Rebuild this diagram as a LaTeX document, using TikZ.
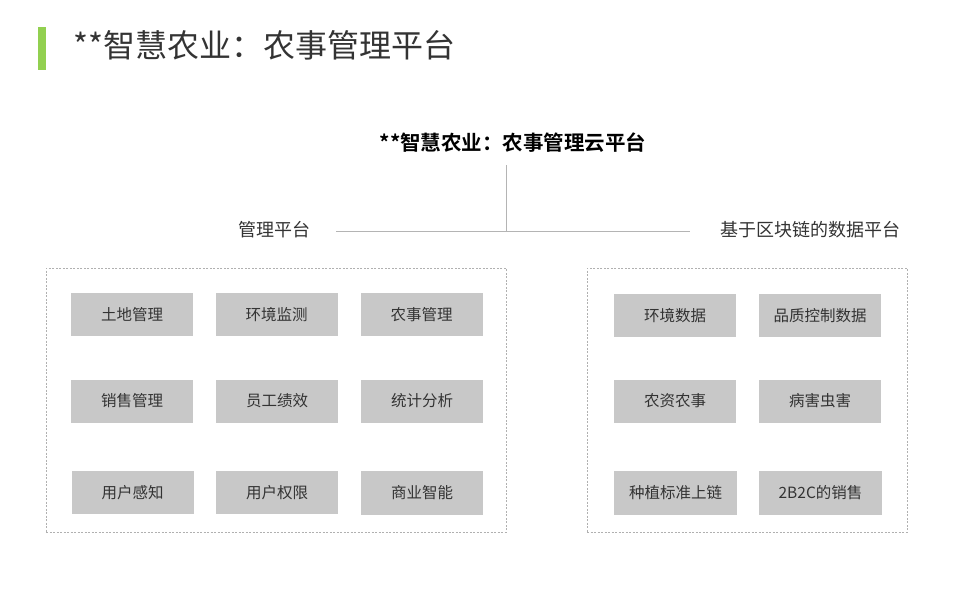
\documentclass[tikz,border=0pt]{standalone}
\usepackage{fontspec}
\setmainfont{Noto Sans CJK SC}
\newfontfamily\cjkbold{Noto Sans CJK SC Bold}
\definecolor{barGreen}{HTML}{92D050}
\definecolor{txtGray}{HTML}{333333}
\definecolor{lineGray}{HTML}{B4B4B4}
\definecolor{boxGray}{HTML}{C8C8C8}
\definecolor{dashGray}{HTML}{B0B0B0}
\tikzset{
  itembox/.style={fill=boxGray, draw=none, minimum width=122pt, minimum height=43pt, inner sep=0pt, font=\fontsize{15.5}{18}\selectfont, text=txtGray},
  frame/.style={draw=dashGray, dashed, dash pattern=on 2pt off 1.5pt, line width=0.6pt},
  conn/.style={draw=lineGray, line width=0.8pt},
  lbl/.style={inner sep=0pt, font=\fontsize{18}{22}\selectfont, text=txtGray}
}
\begin{document}
\begin{tikzpicture}[x=1pt,y=-1pt]
\useasboundingbox (0,0) rectangle (960,600);
\fill[barGreen] (38,27) rectangle (46,70);
\node[anchor=west, inner sep=0pt, font=\fontsize{32}{36}\selectfont, text=txtGray] (title) at (73,45) {**智慧农业：农事管理平台};

\node[inner sep=0pt, font=\fontsize{20.5}{24}\cjkbold, text=black] (hdr) at (513,143) {**智慧农业：农事管理云平台};
\node[lbl] (lp) at (274,230) {管理平台};
\node[lbl] (rp) at (810,230) {基于区块链的数据平台};
\coordinate (junc) at (506,231);
\coordinate (vtop) at (506,165);
\draw[conn] (vtop) -- (junc);
\draw[conn] ([xshift=26pt]lp.east |- junc) -- ([xshift=-30pt]rp.west |- junc);

\node[frame, minimum width=460pt, minimum height=264pt, inner sep=0pt] (lframe) at (276,400) {};
\node[frame, minimum width=320pt, minimum height=264pt, inner sep=0pt] (rframe) at (747,400) {};

\node[itembox] (a1) at (132,314.5) {土地管理};
\node[itembox] (a2) at (276.5,314.5) {环境监测};
\node[itembox] (a3) at (421.5,314.5) {农事管理};
\node[itembox] (b1) at (132,401) {销售管理};
\node[itembox] (b2) at (277,401) {员工绩效};
\node[itembox] (b3) at (422,401) {统计分析};
\node[itembox] (c1) at (132.5,492.5) {用户感知};
\node[itembox] (c2) at (277,492.5) {用户权限};
\node[itembox, minimum height=44pt] (c3) at (422,493) {商业智能};

\node[itembox] (d1) at (675,315.5) {环境数据};
\node[itembox] (d2) at (820,315.5) {品质控制数据};
\node[itembox] (e1) at (675,401) {农资农事};
\node[itembox] (e2) at (820,401) {病害虫害};
\node[itembox, minimum width=123pt, minimum height=44pt] (f1) at (675.5,493) {种植标准上链};
\node[itembox, minimum width=123pt, minimum height=44pt] (f2) at (820.5,493) {2B2C的销售};
\end{tikzpicture}
\end{document}
